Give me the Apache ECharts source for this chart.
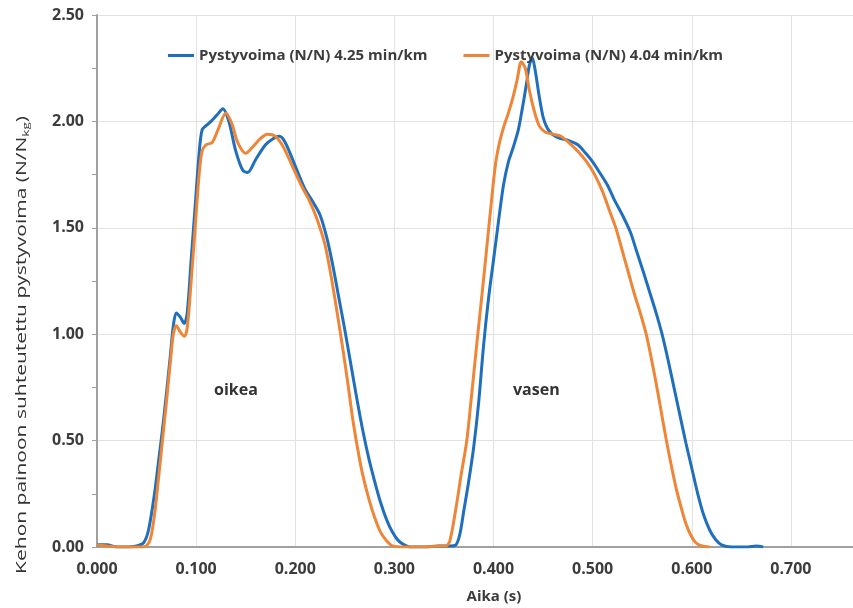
<!DOCTYPE html>
<html>
<head>
<meta charset="utf-8">
<script src="https://cdn.jsdelivr.net/npm/echarts@6/dist/echarts.min.js"></script>
<style>
  html, body { margin: 0; padding: 0; background: #fff; }
  #chart { width: 853px; height: 608px; }
</style>
</head>
<body>
<div id="chart"></div>
<script>
// 4.25 min/km (blue)
var blueTime = [0.000, 0.010, 0.020, 0.030, 0.040, 0.047, 0.052, 0.058, 0.062, 0.066, 0.070, 0.074, 0.077, 0.080, 0.084, 0.088, 0.091, 0.095, 0.099, 0.103, 0.106, 0.110, 0.115, 0.121, 0.127, 0.133, 0.140, 0.147, 0.152, 0.160, 0.170, 0.178, 0.184, 0.190, 0.200, 0.210, 0.218, 0.225, 0.232, 0.238, 0.244, 0.250, 0.256, 0.262, 0.268, 0.274, 0.280, 0.286, 0.292, 0.298, 0.304, 0.310, 0.316, 0.330, 0.345, 0.356, 0.362, 0.366, 0.370, 0.375, 0.380, 0.385, 0.390, 0.395, 0.400, 0.405, 0.410, 0.415, 0.420, 0.425, 0.429, 0.433, 0.436, 0.439, 0.442, 0.446, 0.450, 0.454, 0.459, 0.467, 0.476, 0.485, 0.493, 0.500, 0.507, 0.515, 0.522, 0.530, 0.538, 0.545, 0.552, 0.558, 0.564, 0.570, 0.576, 0.582, 0.588, 0.594, 0.600, 0.606, 0.612, 0.618, 0.624, 0.630, 0.640, 0.655, 0.665, 0.672];
var blueForce = [0.01, 0.01, 0.00, 0.00, 0.005, 0.02, 0.08, 0.25, 0.40, 0.55, 0.72, 0.90, 1.04, 1.10, 1.08, 1.05, 1.10, 1.35, 1.60, 1.85, 1.96, 1.98, 2.00, 2.03, 2.06, 2.00, 1.86, 1.77, 1.76, 1.82, 1.89, 1.92, 1.93, 1.90, 1.79, 1.68, 1.62, 1.56, 1.45, 1.32, 1.17, 1.02, 0.86, 0.70, 0.55, 0.42, 0.31, 0.21, 0.13, 0.07, 0.03, 0.01, 0.00, 0.00, 0.005, 0.005, 0.01, 0.06, 0.17, 0.31, 0.47, 0.68, 0.95, 1.17, 1.35, 1.53, 1.70, 1.81, 1.88, 1.96, 2.06, 2.17, 2.26, 2.30, 2.24, 2.12, 2.02, 1.97, 1.94, 1.92, 1.91, 1.89, 1.85, 1.81, 1.76, 1.70, 1.63, 1.56, 1.48, 1.38, 1.28, 1.19, 1.10, 1.00, 0.88, 0.75, 0.62, 0.49, 0.37, 0.25, 0.15, 0.08, 0.035, 0.01, 0.00, 0.00, 0.005, 0.00];

// 4.04 min/km (orange)
var orangeTime = [0.000, 0.010, 0.020, 0.035, 0.045, 0.050, 0.054, 0.058, 0.062, 0.066, 0.070, 0.074, 0.077, 0.080, 0.084, 0.088, 0.091, 0.095, 0.099, 0.103, 0.106, 0.110, 0.116, 0.122, 0.130, 0.136, 0.142, 0.150, 0.157, 0.165, 0.172, 0.180, 0.188, 0.197, 0.206, 0.215, 0.222, 0.230, 0.237, 0.243, 0.248, 0.253, 0.258, 0.263, 0.268, 0.274, 0.280, 0.286, 0.292, 0.298, 0.310, 0.330, 0.345, 0.352, 0.356, 0.362, 0.367, 0.373, 0.378, 0.383, 0.388, 0.393, 0.398, 0.402, 0.406, 0.410, 0.415, 0.420, 0.424, 0.428, 0.432, 0.436, 0.441, 0.446, 0.452, 0.460, 0.468, 0.476, 0.485, 0.494, 0.502, 0.510, 0.517, 0.524, 0.530, 0.536, 0.542, 0.548, 0.554, 0.559, 0.564, 0.569, 0.574, 0.579, 0.584, 0.589, 0.594, 0.599, 0.604, 0.610, 0.618];
var orangeForce = [0.01, 0.005, 0.00, 0.00, 0.00, 0.005, 0.04, 0.15, 0.32, 0.50, 0.68, 0.87, 1.00, 1.04, 1.01, 0.99, 1.03, 1.25, 1.50, 1.75, 1.86, 1.89, 1.90, 1.96, 2.04, 1.99, 1.90, 1.85, 1.88, 1.92, 1.94, 1.93, 1.88, 1.79, 1.70, 1.62, 1.54, 1.42, 1.25, 1.08, 0.93, 0.77, 0.60, 0.46, 0.34, 0.23, 0.14, 0.07, 0.03, 0.005, 0.00, 0.00, 0.005, 0.005, 0.03, 0.18, 0.33, 0.50, 0.72, 0.95, 1.17, 1.40, 1.63, 1.80, 1.90, 1.97, 2.04, 2.12, 2.20, 2.28, 2.25, 2.15, 2.05, 1.98, 1.95, 1.94, 1.93, 1.90, 1.86, 1.81, 1.75, 1.67, 1.58, 1.49, 1.39, 1.29, 1.19, 1.10, 1.00, 0.89, 0.77, 0.64, 0.51, 0.39, 0.28, 0.19, 0.11, 0.055, 0.02, 0.005, 0.00];

var seriesNames = ['Pystyvoima (N/N) 4.25 min/km', 'Pystyvoima (N/N) 4.04 min/km'];
var xTicks = [0, 0.7626, 0.1];   // min, max (chart is cut at the right edge), step
var yTicks = [0, 2.5, 0.5];

function pairs(t, v) {
    var out = [];
    t.forEach(function(x, i){ out.push([x, v[i]]); });
    return out;
}

var box = document.getElementById('chart');
var myCharts = echarts.init(box);
var labelFont = { color: '#3c3c3c', fontFamily: 'Open Sans', fontWeight: 'bold', fontSize: 16 };

var option = {
    animation: false,
    color: ['#1f6fbd', '#ee8537'],
    grid: { left: 97, right: 0, top: 15, bottom: 61 },
    legend: {
        left: 163,
        top: 43,
        icon: 'rect',
        itemWidth: 26,
        itemHeight: 3,
        itemGap: 36,
        textStyle: { color: '#3c3c3c', fontFamily: 'Open Sans', fontWeight: 'bold', fontSize: 15 },
        data: seriesNames
    },
    xAxis: {
        type: 'value',
        min: xTicks[0], max: xTicks[1], interval: xTicks[2],
        axisLine: { lineStyle: { color: '#a0a0a0', width: 2 } },
        axisTick: { show: false },
        axisLabel: Object.assign({ margin: 14, showMaxLabel: false,
            formatter: function(v){ return v.toFixed(3); } }, labelFont),
        splitLine: { show: true, lineStyle: { color: '#e2e2e2', width: 1 } }
    },
    yAxis: {
        type: 'value',
        min: yTicks[0], max: yTicks[1], interval: yTicks[2],
        axisLine: { show: true, lineStyle: { color: '#a0a0a0', width: 2 } },
        axisTick: { show: true, length: 5, lineStyle: { color: '#a0a0a0', width: 1 } },
        minorTick: { show: true, splitNumber: 2, length: 5, lineStyle: { color: '#a0a0a0', width: 1 } },
        axisLabel: Object.assign({ margin: 13,
            formatter: function(v){ return v.toFixed(2); } }, labelFont),
        splitLine: { show: true, lineStyle: { color: '#e2e2e2', width: 1 } }
    },
    graphic: [
        {
            type: 'text',
            x: 22, y: 345,
            rotation: Math.PI / 2,
            scaleX: 1.5,
            style: {
                text: 'Kehon painoon suhteutettu pystyvoima (N/N{s|kg})',
                fill: '#333',
                fontFamily: 'Open Sans',
                fontSize: 14,
                align: 'center',
                verticalAlign: 'middle',
                rich: { s: { fontSize: 9, fontFamily: 'Open Sans', fill: '#333', verticalAlign: 'bottom', padding: [8, 0, 0, 0] } }
            }
        },
        {
            type: 'text', x: 494, y: 597,
            style: { text: 'Aika (s)', fill: '#3c3c3c', fontFamily: 'Open Sans', fontWeight: 'bold', fontSize: 15, align: 'center', verticalAlign: 'middle' }
        },
        {
            type: 'text', x: 214, y: 390,
            style: { text: 'oikea', fill: '#333', fontFamily: 'Open Sans', fontWeight: 'bold', fontSize: 16, verticalAlign: 'middle' }
        },
        {
            type: 'text', x: 513, y: 390,
            style: { text: 'vasen', fill: '#333', fontFamily: 'Open Sans', fontWeight: 'bold', fontSize: 16, verticalAlign: 'middle' }
        }
    ],
    series: [
        {
            name: seriesNames[0],
            type: 'line',
            smooth: 0.3,
            symbol: 'none',
            lineStyle: { width: 3 },
            data: pairs(blueTime, blueForce)
        },
        {
            name: seriesNames[1],
            type: 'line',
            smooth: 0.3,
            symbol: 'none',
            lineStyle: { width: 3 },
            data: pairs(orangeTime, orangeForce)
        }
    ]
};
myCharts.setOption(option);
</script>
</body>
</html>
